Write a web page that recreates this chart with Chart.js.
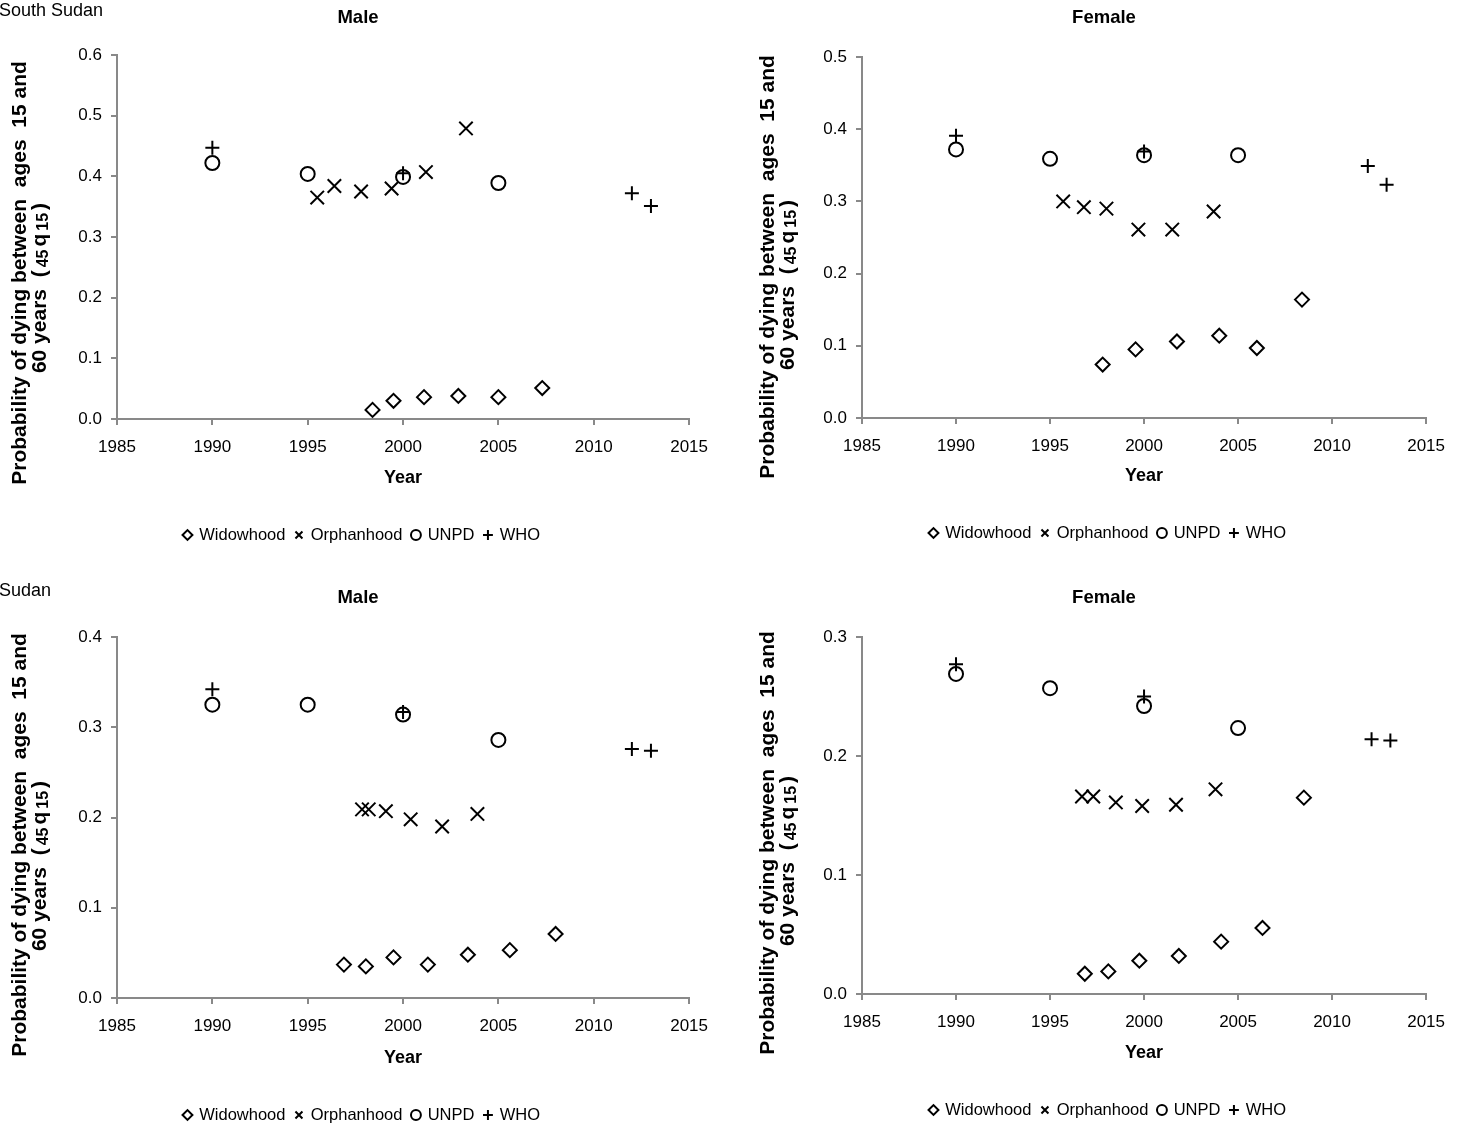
<!DOCTYPE html>
<html>
<head>
<meta charset="utf-8">
<script src="https://cdn.jsdelivr.net/npm/chart.js@4.4.1/dist/chart.umd.min.js"></script>
<style>
  html, body { margin: 0; padding: 0; background: #fff; overflow: hidden; }
  body { width: 1457px; height: 1127px; position: relative; }
  canvas { position: absolute; }
  .country { position: absolute; z-index: 2; font: 18px 'Liberation Sans', Arial, sans-serif; line-height: 20px; color: #000; }
</style>
</head>
<body>
<canvas id="ssMale" width="720" height="560" style="left:0;top:0"></canvas>
<canvas id="ssFemale" width="709" height="560" style="left:748px;top:0"></canvas>
<canvas id="sdMale" width="720" height="555" style="left:0;top:580px"></canvas>
<canvas id="sdFemale" width="709" height="555" style="left:748px;top:580px"></canvas>
<div class="country" style="left:-1px;top:0">South Sudan</div>
<div class="country" style="left:-1px;top:580px">Sudan</div>
<script>
// ---- data: [year, 45q15] pairs ----
const seriesNames = ['Widowhood', 'Orphanhood', 'UNPD', 'WHO'];
const xTicks = [1985, 1990, 1995, 2000, 2005, 2010, 2015];

// South Sudan, male
const ssMaleWidowhood = [[1998.4, 0.015], [1999.5, 0.030], [2001.1, 0.036], [2002.9, 0.038], [2005.0, 0.036], [2007.3, 0.051]];
const ssMaleOrphanhood = [[1995.5, 0.365], [1996.4, 0.384], [1997.8, 0.375], [1999.4, 0.380], [2001.2, 0.407], [2003.3, 0.479]];
const ssMaleUNPD = [[1990, 0.422], [1995, 0.404], [2000, 0.399], [2005, 0.389]];
const ssMaleWHO = [[1990, 0.447], [2000, 0.405], [2012, 0.372], [2013, 0.351]];
const ssMaleYTicks = [0, 0.1, 0.2, 0.3, 0.4, 0.5, 0.6];

// South Sudan, female
const ssFemaleWidowhood = [[1997.8, 0.074], [1999.55, 0.095], [2001.75, 0.106], [2004.0, 0.114], [2006.0, 0.097], [2008.4, 0.164]];
const ssFemaleOrphanhood = [[1995.7, 0.300], [1996.8, 0.292], [1998.0, 0.290], [1999.7, 0.261], [2001.5, 0.261], [2003.7, 0.286]];
const ssFemaleUNPD = [[1990, 0.372], [1995, 0.359], [2000, 0.364], [2005, 0.364]];
const ssFemaleWHO = [[1990, 0.391], [2000, 0.369], [2011.9, 0.349], [2012.9, 0.323]];
const ssFemaleYTicks = [0, 0.1, 0.2, 0.3, 0.4, 0.5];

// Sudan, male
const sdMaleWidowhood = [[1996.9, 0.037], [1998.05, 0.035], [1999.5, 0.045], [2001.3, 0.037], [2003.4, 0.048], [2005.6, 0.053], [2008.0, 0.071]];
const sdMaleOrphanhood = [[1997.85, 0.209], [1998.2, 0.209], [1999.1, 0.207], [2000.4, 0.198], [2002.05, 0.190], [2003.9, 0.204]];
const sdMaleUNPD = [[1990, 0.325], [1995, 0.325], [2000, 0.314], [2005, 0.286]];
const sdMaleWHO = [[1990, 0.342], [2000, 0.317], [2012, 0.276], [2013, 0.274]];
const sdMaleYTicks = [0, 0.1, 0.2, 0.3, 0.4];

// Sudan, female
const sdFemaleWidowhood = [[1996.85, 0.017], [1998.1, 0.019], [1999.75, 0.028], [2001.85, 0.032], [2004.1, 0.044], [2006.3, 0.0555], [2008.5, 0.165]];
const sdFemaleOrphanhood = [[1996.7, 0.166], [1997.3, 0.166], [1998.5, 0.161], [1999.9, 0.158], [2001.7, 0.159], [2003.8, 0.172]];
const sdFemaleUNPD = [[1990, 0.269], [1995, 0.257], [2000, 0.242], [2005, 0.2235]];
const sdFemaleWHO = [[1990, 0.277], [2000, 0.250], [2012.1, 0.214], [2013.1, 0.213]];
const sdFemaleYTicks = [0, 0.1, 0.2, 0.3];

// ---- styling ----
const FONT = "'Liberation Sans', Arial, Helvetica, sans-serif";
Chart.defaults.font.family = FONT;
Chart.defaults.color = '#000';
const AXIS = '#898989';

const markers = [
    { pointStyle: 'rectRot', radius: 7 },
    { pointStyle: 'crossRot', radius: 9.5 },
    { pointStyle: 'circle', radius: 7 },
    { pointStyle: 'cross', radius: 7 }
];

// y axis title drawn by hand so each line can sit where Excel put it
const yTitlePlugin = {
    id: 'yTitle',
    afterDraw(chart, args, o) {
        const ctx = chart.ctx;
        const main = 'bold 21px ' + FONT;
        const sub = 'bold 16px ' + FONT;
        ctx.save();
        ctx.fillStyle = '#000';
        ctx.translate(o.x1, o.y1);
        ctx.rotate(-Math.PI / 2);
        ctx.font = main;
        ctx.textAlign = 'center';
        ctx.textBaseline = 'middle';
        ctx.fillText('Probability of dying between  ages  15 and', 0, 0);
        ctx.restore();

        const segs = [
            { t: '60 years  (', f: main, dy: 0, gap: 3 },
            { t: '45', f: sub, dy: 4, gap: 3 },
            { t: 'q', f: main, dy: 0, gap: 3 },
            { t: '15', f: sub, dy: 4, gap: 3 },
            { t: ')', f: main, dy: 0, gap: 0 }
        ];
        ctx.save();
        ctx.fillStyle = '#000';
        ctx.translate(o.x2, o.y2);
        ctx.rotate(-Math.PI / 2);
        ctx.textAlign = 'left';
        ctx.textBaseline = 'middle';
        let total = 0;
        segs.forEach(s => { ctx.font = s.f; s.w = ctx.measureText(s.t).width + s.gap; total += s.w; });
        let x = -total / 2;
        segs.forEach(s => { ctx.font = s.f; ctx.fillText(s.t, x, s.dy); x += s.w; });
        ctx.restore();
    }
};

// move the chart title and legend so they are centred where the original had them
const centreBoxesPlugin = {
    id: 'centreBoxes',
    afterLayout(chart, args, o) {
        [chart.titleBlock, chart.legend].forEach((box, i) => {
            if (!box) return;
            const cx = i === 0 ? o.titleX : o.legendX;
            const half = (box.right - box.left) / 2;
            box.left = cx - half;
            box.right = cx + half;
        });
    }
};

function makePanel(id, title, series, yTicks, lay) {
    const legendTop = lay.legendY - 18.25;
    const padBottom = lay.height - legendTop - 36.5;
    const axisHeight = legendTop - lay.bottom;

    new Chart(document.getElementById(id), {
        type: 'scatter',
        data: {
            datasets: series.map((pts, i) => ({
                label: seriesNames[i],
                data: pts.map(p => ({ x: p[0], y: p[1] })),
                pointStyle: markers[i].pointStyle,
                pointRadius: markers[i].radius,
                pointHoverRadius: markers[i].radius,
                borderColor: '#000',
                backgroundColor: 'rgba(0,0,0,0)',
                borderWidth: 2,
                clip: false
            }))
        },
        plugins: [yTitlePlugin, centreBoxesPlugin],
        options: {
            responsive: false,
            animation: false,
            events: [],
            layout: { padding: { left: 0, right: lay.padRight, top: 0, bottom: padBottom } },
            scales: {
                x: {
                    type: 'linear',
                    min: xTicks[0],
                    max: xTicks[xTicks.length - 1],
                    afterBuildTicks: s => { s.ticks = xTicks.map(v => ({ value: v })); },
                    afterFit: s => { s.height = axisHeight; },
                    ticks: { font: { size: 17 }, padding: 12, callback: v => String(v), maxRotation: 0 },
                    grid: { drawOnChartArea: false, tickLength: 6, color: AXIS, lineWidth: 2 },
                    border: { color: AXIS, width: 2 },
                    title: { display: true, text: 'Year', font: { size: 18, weight: 'bold' },
                             padding: { top: 0, bottom: legendTop - lay.yearY - 10.8 } }
                },
                y: {
                    type: 'linear',
                    min: yTicks[0],
                    max: yTicks[yTicks.length - 1],
                    afterBuildTicks: s => { s.ticks = yTicks.map(v => ({ value: v })); },
                    afterFit: s => { s.width = lay.left; },
                    ticks: { font: { size: 17 }, padding: 9, callback: v => v.toFixed(1) },
                    grid: { drawOnChartArea: false, tickLength: 6, color: AXIS, lineWidth: 2 },
                    border: { color: AXIS, width: 2 },
                    title: { display: false }
                }
            },
            plugins: {
                title: { display: true, text: title, font: { size: 18.5, weight: 'bold' }, color: '#000',
                         padding: { top: lay.titleY - 11.1, bottom: lay.top - lay.titleY - 11.1 } },
                legend: {
                    position: 'bottom',
                    labels: { usePointStyle: true, boxWidth: 7, boxHeight: 7, padding: 10,
                              font: { size: 16.5 }, color: '#000' }
                },
                tooltip: { enabled: false },
                yTitle: lay.yTitle,
                centreBoxes: { titleX: lay.titleX, legendX: lay.legendX }
            }
        }
    });
}

makePanel('ssMale', 'Male',
    [ssMaleWidowhood, ssMaleOrphanhood, ssMaleUNPD, ssMaleWHO], ssMaleYTicks,
    { height: 560, left: 117, padRight: 30, top: 55, bottom: 419, titleY: 18, yearY: 478, legendY: 535,
      titleX: 358, legendX: 362,
      yTitle: { x1: 20, y1: 273, x2: 40, y2: 288 } });

makePanel('ssFemale', 'Female',
    [ssFemaleWidowhood, ssFemaleOrphanhood, ssFemaleUNPD, ssFemaleWHO], ssFemaleYTicks,
    { height: 560, left: 114, padRight: 20, top: 57, bottom: 418, titleY: 18, yearY: 476, legendY: 533,
      titleX: 1104 - 748, legendX: 1108 - 748,
      yTitle: { x1: 20, y1: 267, x2: 40, y2: 285 } });

makePanel('sdMale', 'Male',
    [sdMaleWidowhood, sdMaleOrphanhood, sdMaleUNPD, sdMaleWHO], sdMaleYTicks,
    { height: 555, left: 117, padRight: 30, top: 57, bottom: 418, titleY: 18, yearY: 478, legendY: 535,
      titleX: 358, legendX: 362,
      yTitle: { x1: 20, y1: 265, x2: 40, y2: 286 } });

makePanel('sdFemale', 'Female',
    [sdFemaleWidowhood, sdFemaleOrphanhood, sdFemaleUNPD, sdFemaleWHO], sdFemaleYTicks,
    { height: 555, left: 114, padRight: 20, top: 57, bottom: 414, titleY: 18, yearY: 473, legendY: 530,
      titleX: 1104 - 748, legendX: 1108 - 748,
      yTitle: { x1: 20, y1: 263, x2: 40, y2: 281 } });
</script>
</body>
</html>
